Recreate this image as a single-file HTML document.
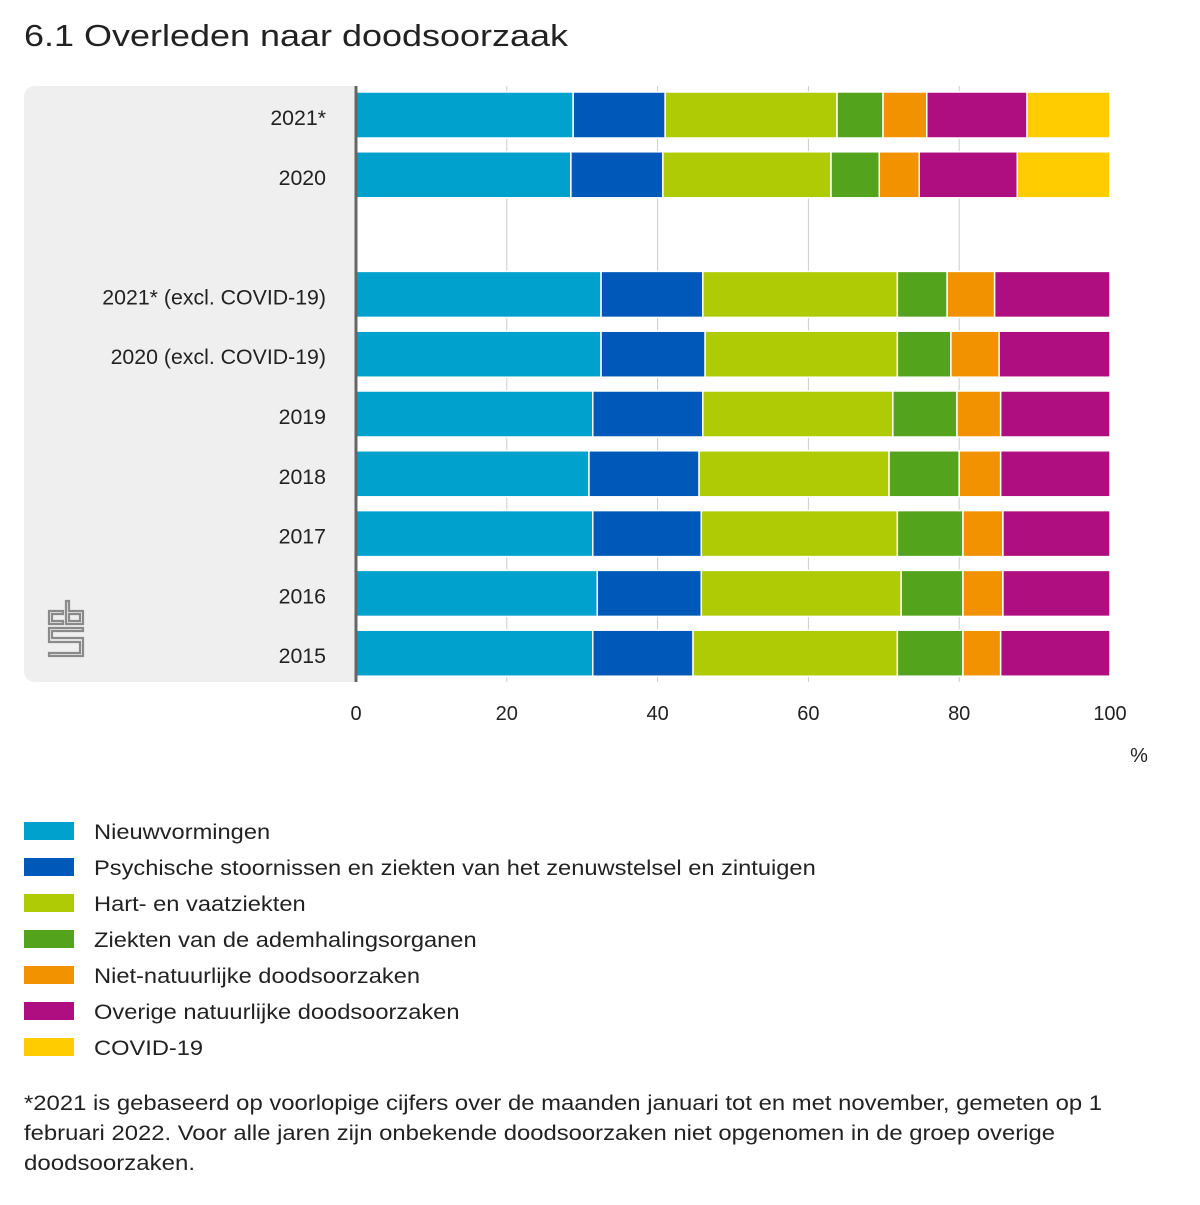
<!DOCTYPE html>
<html><head><meta charset="utf-8"><style>
body{margin:0;width:1200px;height:1200px;background:#fff;font-family:"Liberation Sans",sans-serif;color:#222;overflow:hidden}
</style></head><body>
<svg width="1200" height="1200" xmlns="http://www.w3.org/2000/svg" font-family="Liberation Sans, sans-serif">
<text x="24" y="46" font-size="31" fill="#222" textLength="544" lengthAdjust="spacingAndGlyphs">6.1 Overleden naar doodsoorzaak</text>
<path d="M36,86 H355 V682 H36 Q24,682 24,670 V98 Q24,86 36,86Z" fill="#efefef"/>
<g fill="none" stroke="#8a8a8a" stroke-width="2.2">
<path d="M49,624 V611 H63 V614 H52 V621 H63 V624 Z"/>
<path d="M66,624 V601 H69 V611 H83 V624 Z M69,614 V621 H80 V614 Z"/>
<path d="M49,628 H83 V631 H52 V638 H83 V656 H49 V653 H80 V642 H49 Z"/>
</g>
<g id="grid"></g>
<g id="bars"></g>
<g id="labels"></g>
<line x1="356" y1="86" x2="356" y2="682" stroke="#666" stroke-width="3"/>
<g id="xticks"></g>
<text x="1139" y="762" font-size="20" text-anchor="middle" fill="#222">%</text>
<g id="legend"></g>
<text font-size="21.5" fill="#222" lengthAdjust="spacingAndGlyphs">
<tspan x="24" y="1110" textLength="1078" lengthAdjust="spacingAndGlyphs">*2021 is gebaseerd op voorlopige cijfers over de maanden januari tot en met november, gemeten op 1</tspan>
<tspan x="24" y="1140" textLength="1031" lengthAdjust="spacingAndGlyphs">februari 2022. Voor alle jaren zijn onbekende doodsoorzaken niet opgenomen in de groep overige</tspan>
<tspan x="24" y="1170" textLength="171" lengthAdjust="spacingAndGlyphs">doodsoorzaken.</tspan>
</text>
</svg>
<script>
const categories=["2021*","2020","","2021* (excl. COVID-19)","2020 (excl. COVID-19)","2019","2018","2017","2016","2015"];
const seriesNames=["Nieuwvormingen","Psychische stoornissen en ziekten van het zenuwstelsel en zintuigen","Hart- en vaatziekten","Ziekten van de ademhalingsorganen","Niet-natuurlijke doodsoorzaken","Overige natuurlijke doodsoorzaken","COVID-19"];
const nieuw=[28.8,28.5,null,32.5,32.5,31.4,30.9,31.4,32.0,31.4];
const psych=[12.2,12.2,null,13.5,13.8,14.6,14.6,14.4,13.8,13.3];
const hart=[22.8,22.3,null,25.8,25.5,25.2,25.2,26.0,26.5,27.1];
const adem=[6.1,6.4,null,6.6,7.1,8.5,9.3,8.7,8.2,8.7];
const nietnat=[5.8,5.3,null,6.3,6.4,5.8,5.5,5.3,5.3,5.0];
const overig=[13.3,13.0,null,15.3,14.7,14.5,14.5,14.2,14.2,14.5];
const covid=[11.0,12.3,null,0,0,0,0,0,0,0];
const xTicks=[0,20,40,60,80,100];
const colors=["#00a1cd","#0058b8","#afcb05","#53a31d","#f39200","#af0e80","#ffcc00"];
const series=[nieuw,psych,hart,adem,nietnat,overig,covid];
const NS="http://www.w3.org/2000/svg";
const x=v=>356+v*7.54;
const yTop=i=>92+i*59.8;
function mk(t,a,p){const e=document.createElementNS(NS,t);for(const k in a)e.setAttribute(k,a[k]);p.appendChild(e);return e;}
const grid=document.getElementById('grid'),bars=document.getElementById('bars'),labels=document.getElementById('labels'),xt=document.getElementById('xticks'),lg=document.getElementById('legend');
xTicks.forEach(t=>{
 if(t>0&&t<100){const l=mk('line',{x1:x(t),x2:x(t),y1:86,y2:682,stroke:'#ccc','stroke-width':1},grid);
 
 }
 const tx=mk('text',{x:x(t),y:720,'font-size':20,'text-anchor':'middle',fill:'#222'},xt);tx.textContent=t;
 
 
});
categories.forEach((c,i)=>{
 if(!c)return;
 const lb=mk('text',{x:326,y:yTop(i)+33,'font-size':21.3,'text-anchor':'end',fill:'#222'},labels);lb.textContent=c;
 
 
 let acc=0;
 series.forEach((s,k)=>{const v=s[i];if(!v)return;
  const r=mk('rect',{x:x(acc),y:yTop(i),width:v*7.54,height:46,fill:colors[k],stroke:'#fff','stroke-width':1.5},bars);
  
  
  acc+=v;});
});
seriesNames.forEach((n,k)=>{
 const y=822+k*36;
 const r=mk('rect',{x:24,y:y,width:50,height:18,fill:colors[k]},lg);
 
 
 const t=mk('text',{x:94,y:y+17,'font-size':21.5,fill:'#222'},lg);t.textContent=n;
 
 
 const w=t.getComputedTextLength();
 t.setAttribute('textLength',w*1.1);
 t.setAttribute('lengthAdjust','spacingAndGlyphs');
});
</script>
</body></html>
